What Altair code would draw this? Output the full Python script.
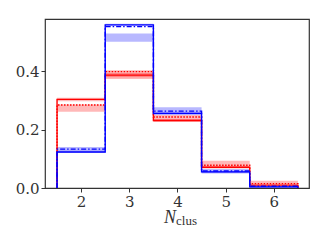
import altair as alt
import pandas as pd

bins = [2, 3, 4, 5, 6]
series_names = ["red_solid", "red_dot", "blue_solid", "blue_dd"]
red_solid = [0.303, 0.386, 0.231, 0.071, 0.010]
red_solid_lo = [0.297, 0.379, 0.226, 0.067, 0.008]
red_solid_hi = [0.309, 0.393, 0.236, 0.075, 0.012]
red_dot = [0.284, 0.398, 0.243, 0.078, 0.015]
red_dot_lo = [0.261, 0.373, 0.228, 0.073, 0.013]
red_dot_hi = [0.286, 0.403, 0.250, 0.093, 0.025]
blue_solid = [0.123, 0.558, 0.255, 0.055, 0.004]
blue_solid_lo = [0.120, 0.555, 0.252, 0.052, 0.002]
blue_solid_hi = [0.127, 0.562, 0.259, 0.058, 0.006]
blue_dd = [0.133, 0.552, 0.263, 0.058, 0.006]
blue_dd_lo = [0.125, 0.500, 0.257, 0.050, 0.002]
blue_dd_hi = [0.140, 0.528, 0.276, 0.065, 0.008]

vals = {"red_solid": red_solid, "red_dot": red_dot, "blue_solid": blue_solid, "blue_dd": blue_dd}
los = {"red_solid": red_solid_lo, "red_dot": red_dot_lo, "blue_solid": blue_solid_lo, "blue_dd": blue_dd_lo}
his = {"red_solid": red_solid_hi, "red_dot": red_dot_hi, "blue_solid": blue_solid_hi, "blue_dd": blue_dd_hi}
colors = {"red_solid": "#ff0000", "red_dot": "#ff0000", "blue_solid": "#0000ff", "blue_dd": "#0000ff"}

line_rows = []
band_rows = []
for s in series_names:
    v = vals[s]
    pts = [(bins[0] - 0.5, 0.0)]
    for b, y in zip(bins, v):
        pts.append((b - 0.5, y))
    pts.append((bins[-1] + 0.5, v[-1]))
    pts.append((bins[-1] + 0.5, 0.0))
    for i, (x, y) in enumerate(pts):
        line_rows.append({"s": s, "x": x, "y": y, "i": i})
    for b, lo, hi in zip(bins, los[s], his[s]):
        band_rows.append({"s": s, "x0": b - 0.5, "x1": b + 0.5, "lo": lo, "hi": hi})

lines = pd.DataFrame(line_rows)
bands = pd.DataFrame(band_rows)

xs = alt.Scale(domain=[1.25, 6.73], nice=False, zero=False)
ys = alt.Scale(domain=[0, 0.578], nice=False)
cscale = alt.Scale(domain=series_names, range=[colors[s] for s in series_names])
dscale = alt.Scale(domain=series_names, range=[[1, 0], [1.5, 1.5], [1, 0], [5, 2, 1.5, 2]])

serif = "DejaVu Serif"

def xaxis():
    return alt.Axis(values=bins, format="d", title=None, labelFont=serif, labelFontSize=15,
                    labelFontWeight="normal", labelColor="#333")

def yaxis():
    return alt.Axis(values=[0, 0.2, 0.4], format=".1f", title=None, labelFont=serif, labelFontSize=15,
                    labelFontWeight="normal", labelColor="#333")

band_layer = alt.Chart(bands).mark_rect(opacity=0.28).encode(
    x=alt.X("x0:Q", scale=xs, axis=xaxis()),
    x2="x1:Q",
    y=alt.Y("lo:Q", scale=ys, axis=yaxis()),
    y2="hi:Q",
    color=alt.Color("s:N", scale=cscale, legend=None),
)

line_layer = alt.Chart(lines).mark_line(interpolate="step-after", strokeWidth=1.4).encode(
    x=alt.X("x:Q", scale=xs, axis=xaxis()),
    y=alt.Y("y:Q", scale=ys, axis=yaxis()),
    color=alt.Color("s:N", scale=cscale, legend=None),
    strokeDash=alt.StrokeDash("s:N", scale=dscale, legend=None),
    order="i:Q",
)

title_n = alt.Chart(pd.DataFrame({"t": ["N"]})).mark_text(
    font="Liberation Serif", fontSize=18, fontStyle="italic", align="right", baseline="alphabetic", color="#333"
).encode(text="t:N", x=alt.value(131), y=alt.value(204))

title_sub = alt.Chart(pd.DataFrame({"t": ["clus"]})).mark_text(
    font="Liberation Serif", fontSize=13, align="left", baseline="alphabetic", color="#333"
).encode(text="t:N", x=alt.value(131), y=alt.value(206))

chart = alt.layer(band_layer, line_layer, title_n, title_sub).properties(
    width=264, height=169,
    background="white",
    autosize=alt.AutoSizeParams(type="none"),
    padding={"left": 37, "top": 11, "right": 8, "bottom": 43},
).configure_view(
    stroke="#333", strokeWidth=1.2
).configure_axis(
    grid=False, domain=False, tickColor="#333", tickSize=4, tickWidth=1,
    labelFont=serif, labelFontSize=15, labelColor="#333", labelPadding=2,
)

chart.save("out.html", embed_options={"renderer": "svg", "actions": False})
